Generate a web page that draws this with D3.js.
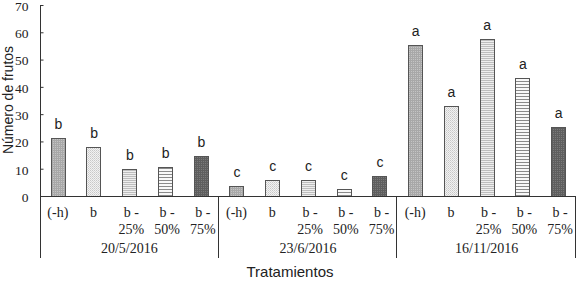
<!DOCTYPE html>
<html><head><meta charset="utf-8">
<script src="https://cdn.jsdelivr.net/npm/d3@7"></script>
<style>body{margin:0;background:#fff}svg{display:block}</style>
</head><body>
<script>
const dates = ["20/5/2016", "23/6/2016", "16/11/2016"];
const treatments = ["(-h)", "b", "b - 25%", "b - 50%", "b - 75%"];
const values20_5 = [21.2, 18.0, 10.0, 10.7, 14.7];
const values23_6 = [3.7, 5.8, 5.8, 2.4, 7.4];
const values16_11 = [55.3, 33.1, 57.7, 43.1, 25.4];
const letters20_5 = ["b", "b", "b", "b", "b"];
const letters23_6 = ["c", "c", "c", "c", "c"];
const letters16_11 = ["a", "a", "a", "a", "a"];
const yTicks = [0, 10, 20, 30, 40, 50, 60, 70];

(function () {
const W = 577, H = 282;
const mLeft = 40, mRight = 576, mTop = 5, mBottom = 196;
const svg = d3.select("body").append("svg").attr("width", W).attr("height", H);

// patterns
const defs = svg.append("defs");
function pat(id, bg, draw, w, h) {
  const p = defs.append("pattern").attr("id", id).attr("patternUnits", "userSpaceOnUse")
    .attr("width", w).attr("height", h);
  p.append("rect").attr("width", w).attr("height", h).attr("fill", bg);
  draw(p);
}
pat("p0", "#c4c4c4", p => {
  p.append("rect").attr("x", 0).attr("y", 0).attr("width", 2).attr("height", 1).attr("fill", "#a8a8a8");
  p.append("rect").attr("x", 0).attr("y", 0).attr("width", 1).attr("height", 2).attr("fill", "#a8a8a8");
}, 2, 2);
pat("p1", "#f2f2f2", p => {
  p.append("rect").attr("x", 0).attr("y", 0).attr("width", 1).attr("height", 1).attr("fill", "#c8c8c8");
  p.append("rect").attr("x", 1).attr("y", 1).attr("width", 1).attr("height", 1).attr("fill", "#d8d8d8");
}, 2, 2);
pat("p2", "#eeeeee", p => {
  p.append("rect").attr("x", 0).attr("y", 0).attr("width", 2).attr("height", 1).attr("fill", "#bdbdbd");
}, 2, 2);
pat("p3", "#f8f8f8", p => {
  p.append("rect").attr("x", 0).attr("y", 0).attr("width", 3).attr("height", 1).attr("fill", "#8a8a8a");
}, 3, 3);
pat("p4", "#7a7a7a", p => {
  p.append("rect").attr("x", 0).attr("y", 0).attr("width", 2).attr("height", 1).attr("fill", "#5e5e5e");
  p.append("rect").attr("x", 0).attr("y", 0).attr("width", 1).attr("height", 2).attr("fill", "#5e5e5e");
}, 2, 2);

const groups = [
  { date: dates[0], values: values20_5, letters: letters20_5 },
  { date: dates[1], values: values23_6, letters: letters23_6 },
  { date: dates[2], values: values16_11, letters: letters16_11 }
];
const flat = [];
groups.forEach((g, gi) => treatments.forEach((t, ti) =>
  flat.push({ key: gi + "_" + ti, gi, ti, t, v: g.values[ti], l: g.letters[ti] })));

const x = d3.scaleBand().domain(flat.map(d => d.key)).range([mLeft, mRight])
  .paddingInner(0.6).paddingOuter(0.3);
const y = d3.scaleLinear().domain([0, 70]).range([mBottom, mTop]);

// y axis
const yAxis = d3.axisLeft(y).tickValues(yTicks).tickSize(-3).tickPadding(12).tickFormat(d3.format("d"));
const ya = svg.append("g").attr("transform", `translate(${mLeft + 0.5},0)`).call(yAxis);
ya.select(".domain").remove();
ya.selectAll(".tick line").attr("stroke", "#333");
ya.selectAll("text").attr("font-family", "Liberation Serif").attr("font-size", 13.5).attr("fill", "#222")
  .attr("dy", "0.4em");
svg.append("line").attr("x1", mLeft + 0.5).attr("x2", mLeft + 0.5).attr("y1", mTop).attr("y2", 258)
  .attr("stroke", "#333");

// bars
svg.selectAll("rect.bar").data(flat).join("rect").attr("class", "bar")
  .attr("x", d => Math.round(x(d.key)) + 0.5).attr("width", Math.round(x.bandwidth()))
  .attr("y", d => Math.round(y(d.v)) + 0.5).attr("height", d => Math.round(y(0)) - Math.round(y(d.v)))
  .attr("fill", d => `url(#p${d.ti})`).attr("stroke", "#555").attr("stroke-width", 1);

// letters
svg.selectAll("text.let").data(flat).join("text").attr("class", "let")
  .attr("x", d => x(d.key) + x.bandwidth() / 2 + 0.5).attr("y", d => y(d.v) - 9)
  .attr("text-anchor", "middle").attr("font-family", "Liberation Sans").attr("font-size", 14)
  .attr("fill", "#222").text(d => d.l);

// baseline
svg.append("line").attr("x1", mLeft).attr("x2", mRight).attr("y1", mBottom + 0.5).attr("y2", mBottom + 0.5)
  .attr("stroke", "#333");

// group separators
const step = (mRight - mLeft) / 3;
[1, 2, 3].forEach(i => {
  const xx = Math.round(mLeft + step * i) - 0.5;
  svg.append("line").attr("x1", xx).attr("x2", xx).attr("y1", mBottom).attr("y2", 258).attr("stroke", "#333");
});

// category labels
const cl = svg.selectAll("text.cat").data(flat).join("text").attr("class", "cat")
  .attr("font-family", "Liberation Serif").attr("font-size", 14).attr("fill", "#222")
  .attr("text-anchor", "middle");
cl.each(function (d) {
  const cx = x(d.key) + x.bandwidth() / 2;
  const parts = d.t.split(" - ");
  const sel = d3.select(this);
  if (parts.length === 1) {
    sel.append("tspan").attr("x", cx).attr("y", 217).text(d.t);
  } else {
    sel.append("tspan").attr("x", cx + 2).attr("y", 217).text(parts[0] + " -");
    sel.append("tspan").attr("x", cx + 2).attr("y", 234).text(parts[1]);
  }
});

// date labels
svg.selectAll("text.date").data(groups).join("text").attr("class", "date")
  .attr("x", (d, i) => mLeft + step * (i + 0.5)).attr("y", 253)
  .attr("text-anchor", "middle").attr("font-family", "Liberation Serif").attr("font-size", 14)
  .attr("fill", "#222").text(d => d.date);

// axis titles
svg.append("text").attr("x", 290).attr("y", 277).attr("text-anchor", "middle")
  .attr("font-family", "Liberation Sans").attr("font-size", 15).attr("fill", "#222").text("Tratamientos");
svg.append("text").attr("transform", "translate(13,100) rotate(-90)").attr("text-anchor", "middle")
  .attr("font-family", "Liberation Sans").attr("font-size", 14).attr("fill", "#222").text("Número de frutos");
})();
</script>
</body></html>
